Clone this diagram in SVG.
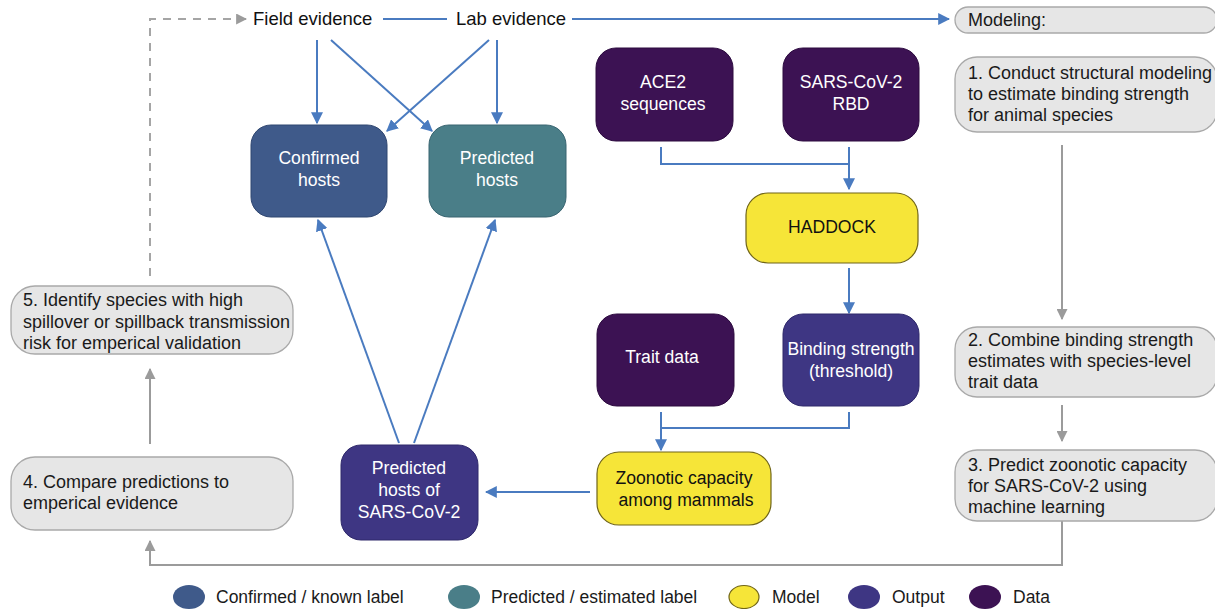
<svg xmlns="http://www.w3.org/2000/svg" width="1215" height="609" viewBox="0 0 1215 609">
<defs>
<style>
.t{font-family:"Liberation Sans",Arial,sans-serif;font-size:18px;fill:#1a1a1a}
.tt{font-family:"Liberation Sans",Arial,sans-serif;font-size:18.5px;fill:#111111}
.nt{font-family:"Liberation Sans",Arial,sans-serif;font-size:17.6px;fill:#ffffff;text-anchor:middle}
.yt{font-family:"Liberation Sans",Arial,sans-serif;font-size:17.6px;fill:#111111;text-anchor:middle}
.lg{font-family:"Liberation Sans",Arial,sans-serif;font-size:17.5px;fill:#1a1a1a}
.gbox{fill:#e6e6e6;stroke:#a9a9a9;stroke-width:1.3}
.conf{fill:#3f5a8a;stroke:#2f4670;stroke-width:1}
.pred{fill:#4a7e88;stroke:#386470;stroke-width:1}
.data{fill:#3c1253;stroke:#2c0a3f;stroke-width:1}
.out{fill:#3e3683;stroke:#2e286a;stroke-width:1}
.mod{fill:#f6e538;stroke:#6f6418;stroke-width:1.2}
.bl{fill:none;stroke:#4a7bc0;stroke-width:2}
.gr{fill:none;stroke:#9b9b9b;stroke-width:2}
.dash{fill:none;stroke:#a5a5a5;stroke-width:2;stroke-dasharray:8 7}
</style>
<marker id="ab" viewBox="0 0 10 10" refX="9" refY="5" markerWidth="6" markerHeight="6" orient="auto" markerUnits="strokeWidth"><path d="M0,0 L10,5 L0,10 z" fill="#4a7bc0"/></marker>
<marker id="ag" viewBox="0 0 10 10" refX="9" refY="5" markerWidth="5.5" markerHeight="5.5" orient="auto" markerUnits="strokeWidth"><path d="M0,0 L10,5 L0,10 z" fill="#9b9b9b"/></marker>
</defs>
<rect width="1215" height="609" fill="#ffffff"/>

<g id="connectors">
<line class="bl" x1="383" y1="19" x2="447" y2="19"/>
<line class="bl" x1="572" y1="19" x2="949" y2="19" marker-end="url(#ab)"/>
<line class="bl" x1="317" y1="40" x2="317" y2="123" marker-end="url(#ab)"/>
<line class="bl" x1="331" y1="40" x2="432" y2="131" marker-end="url(#ab)"/>
<line class="bl" x1="489" y1="40" x2="387" y2="131" marker-end="url(#ab)"/>
<line class="bl" x1="497" y1="40" x2="497" y2="123" marker-end="url(#ab)"/>
<polyline class="bl" points="661,147 661,164 849,164"/>
<line class="bl" x1="849" y1="147" x2="849" y2="189" marker-end="url(#ab)"/>
<line class="bl" x1="849" y1="268" x2="849" y2="313" marker-end="url(#ab)"/>
<polyline class="bl" points="849,412 849,428 661,428"/>
<line class="bl" x1="661" y1="412" x2="661" y2="450" marker-end="url(#ab)"/>
<line class="bl" x1="590" y1="492" x2="486" y2="492" marker-end="url(#ab)"/>
<line class="bl" x1="399" y1="443" x2="318" y2="220" marker-end="url(#ab)"/>
<line class="bl" x1="414" y1="443" x2="495" y2="220" marker-end="url(#ab)"/>
<line class="gr" x1="1062" y1="145" x2="1062" y2="319" marker-end="url(#ag)"/>
<line class="gr" x1="1062" y1="405" x2="1062" y2="441" marker-end="url(#ag)"/>
<polyline class="gr" points="1062,521 1062,565 150,565 150,541" marker-end="url(#ag)"/>
<line class="gr" x1="150" y1="444" x2="150" y2="369" marker-end="url(#ag)"/>
<polyline class="dash" points="150,276 150,19 246,19" marker-end="url(#ag)"/>
</g>

<g id="field-evidence"><text class="tt" x="253" y="25">Field evidence</text></g>
<g id="lab-evidence"><text class="tt" x="456" y="25">Lab evidence</text></g>

<g id="confirmed-hosts">
<rect class="conf" x="251" y="125" width="136" height="92" rx="20"/>
<text class="nt" x="319" y="164">Confirmed</text>
<text class="nt" x="319" y="186">hosts</text>
</g>
<g id="predicted-hosts">
<rect class="pred" x="429" y="125" width="137" height="92" rx="20"/>
<text class="nt" x="497" y="164">Predicted</text>
<text class="nt" x="497" y="186">hosts</text>
</g>
<g id="ace2">
<rect class="data" x="596" y="48" width="137" height="93" rx="20"/>
<text class="nt" x="663" y="88">ACE2</text>
<text class="nt" x="663" y="110">sequences</text>
</g>
<g id="rbd">
<rect class="data" x="783" y="48" width="136" height="93" rx="20"/>
<text class="nt" x="851" y="88">SARS-CoV-2</text>
<text class="nt" x="851" y="110">RBD</text>
</g>
<g id="haddock">
<rect class="mod" x="746" y="193" width="172" height="70" rx="22"/>
<text class="yt" x="832" y="233">HADDOCK</text>
</g>
<g id="trait-data">
<rect class="data" x="597" y="314" width="137" height="92" rx="20"/>
<text class="nt" x="662" y="363">Trait data</text>
</g>
<g id="binding-strength">
<rect class="out" x="783" y="314" width="136" height="92" rx="20"/>
<text class="nt" x="851" y="355">Binding strength</text>
<text class="nt" x="851" y="377">(threshold)</text>
</g>
<g id="zoonotic-capacity">
<rect class="mod" x="597" y="452" width="174" height="73" rx="22"/>
<text class="yt" x="684" y="484">Zoonotic capacity</text>
<text class="yt" x="686" y="506">among mammals</text>
</g>
<g id="predicted-hosts-sars">
<rect class="out" x="341" y="445" width="137" height="95" rx="20"/>
<text class="nt" x="409" y="474">Predicted</text>
<text class="nt" x="409" y="496">hosts of</text>
<text class="nt" x="409" y="518">SARS-CoV-2</text>
</g>

<g id="modeling">
<rect class="gbox" x="955" y="7" width="262" height="26" rx="13"/>
<text class="t" x="968" y="26">Modeling:</text>
</g>
<g id="step1">
<rect class="gbox" x="955" y="57" width="262" height="75" rx="22"/>
<text class="t" x="968" y="79">1. Conduct structural modeling</text>
<text class="t" x="968" y="100">to estimate binding strength</text>
<text class="t" x="968" y="121">for animal species</text>
</g>
<g id="step2">
<rect class="gbox" x="955" y="327" width="262" height="70" rx="22"/>
<text class="t" x="968" y="346">2. Combine binding strength</text>
<text class="t" x="968" y="367">estimates with species-level</text>
<text class="t" x="968" y="388">trait data</text>
</g>
<g id="step3">
<rect class="gbox" x="955" y="450" width="262" height="71" rx="22"/>
<text class="t" x="968" y="471">3. Predict zoonotic capacity</text>
<text class="t" x="968" y="492">for SARS-CoV-2 using</text>
<text class="t" x="968" y="513">machine learning</text>
</g>
<g id="step4">
<rect class="gbox" x="11" y="457" width="282" height="73" rx="24"/>
<text class="t" x="23" y="488">4. Compare predictions to</text>
<text class="t" x="23" y="509">emperical evidence</text>
</g>
<g id="step5">
<rect class="gbox" x="11" y="286" width="282" height="68" rx="24"/>
<text class="t" x="23" y="306">5. Identify species with high</text>
<text class="t" x="23" y="328">spillover or spillback transmission</text>
<text class="t" x="23" y="349">risk for emperical validation</text>
</g>

<g id="legend">
<ellipse cx="189" cy="597" rx="16" ry="12" fill="#3f5a8a"/>
<text class="lg" x="216" y="603">Confirmed / known label</text>
<ellipse cx="464" cy="597" rx="16" ry="12" fill="#4a7e88"/>
<text class="lg" x="491" y="603">Predicted / estimated label</text>
<ellipse cx="744" cy="597" rx="15" ry="11.5" fill="#f6e538" stroke="#6f6418" stroke-width="1.2"/>
<text class="lg" x="772" y="603">Model</text>
<ellipse cx="864" cy="597" rx="16" ry="12" fill="#3e3683"/>
<text class="lg" x="892" y="603">Output</text>
<ellipse cx="985" cy="597" rx="16" ry="12" fill="#3c1253"/>
<text class="lg" x="1013" y="603">Data</text>
</g>
</svg>
